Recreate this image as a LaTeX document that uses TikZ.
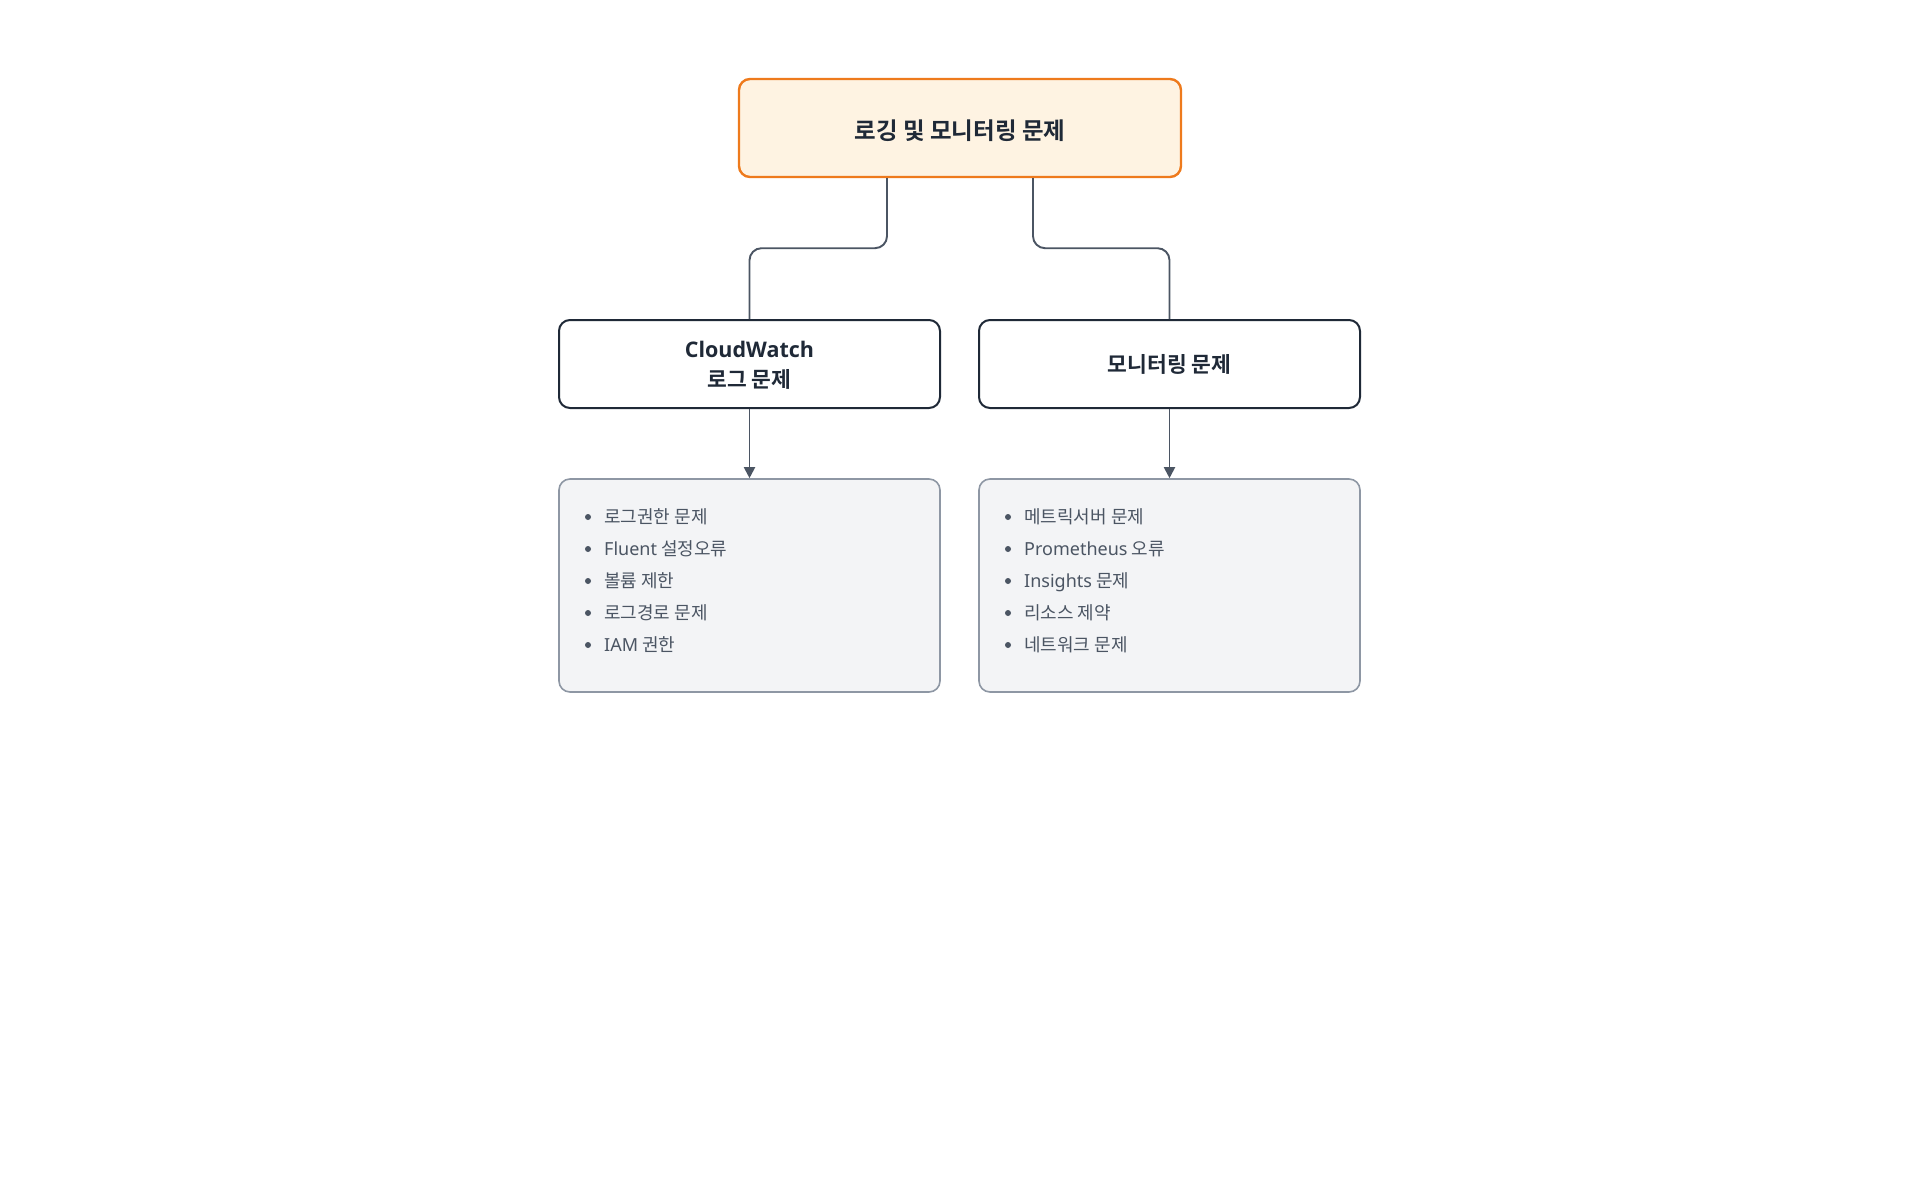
\documentclass[tikz,border=0pt]{standalone}
\usepackage{fontspec}
\setmainfont{Noto Sans CJK KR}[BoldFont={Noto Sans CJK KR Bold}]
\newfontfamily\lat{Noto Sans}
\newfontfamily\latb{Open Sans}
\usetikzlibrary{arrows.meta}
\definecolor{dark}{HTML}{1F2937}
\definecolor{conn}{HTML}{4B5563}
\definecolor{orng}{HTML}{EE7A1C}
\definecolor{orngfill}{HTML}{FEF3E2}
\definecolor{listfill}{HTML}{F3F4F6}
\definecolor{listdraw}{HTML}{8E97A4}
\definecolor{itemtext}{HTML}{4B5563}
\tikzset{
  x=1pt, y=1pt,
  topbox/.style={draw=orng, fill=orngfill, line width=2.4pt, rounded corners=11pt,
    minimum width=442pt, minimum height=98pt, text=dark,
    font=\fontsize{23.5}{28}\selectfont\bfseries, inner sep=0pt},
  midbox/.style={draw=dark, fill=white, line width=2pt, rounded corners=11pt,
    minimum width=381pt, minimum height=88pt, text=dark, align=center,
    font=\fontsize{21.5}{30}\selectfont\bfseries, inner sep=0pt},
  listbox/.style={draw=listdraw, fill=listfill, line width=1.6pt, rounded corners=11pt,
    minimum width=381pt, minimum height=213pt, inner sep=0pt},
  item/.style={anchor=base west, text=itemtext, inner sep=0pt,
    font=\fontsize{18}{20}\selectfont},
  bul/.style={fill=itemtext},
  link/.style={draw=conn, line width=1.9pt, rounded corners=12pt},
  arr/.style={draw=conn, line width=1.9pt, -{Triangle[length=11pt,width=11pt]}}
}
\begin{document}
\begin{tikzpicture}
\useasboundingbox (0,0) rectangle (1920,-1200);
\node[topbox] (top) at (960,-128) {\raisebox{-3pt}[\height][\depth]{로깅 및 모니터링 문제}};
\node[midbox] (cw) at (749.5,-364) {\raisebox{-2.5pt}[\height][\depth]{\begin{tabular}{@{}c@{}}{\latb\bfseries CloudWatch}\\로그 문제\end{tabular}}};
\node[midbox] (mon) at (1169.5,-364) {모니터링 문제};
\node[listbox] (cwl) at (749.5,-585.5) {};
\node[listbox] (monl) at (1169.5,-585.5) {};

\draw[link] ([xshift=-73pt]top.south) -- ++(0,-70) -| (cw.north);
\draw[link] ([xshift=73pt]top.south) -- ++(0,-70) -| (mon.north);
\draw[arr] (cw.south) -- (cwl.north);
\draw[arr] (mon.south) -- (monl.north);

\foreach \y in {517,549,581,613,645}{
  \fill[bul] (588,-\y) circle (3pt);
  \fill[bul] (1008,-\y) circle (3pt);
}
\node[item] (a1) at (604,-523.5) {로그권한 문제};
\node[item] (a2) at (604,-555.5) {{\lat Fluent} 설정오류};
\node[item] (a3) at (604,-587.5) {볼륨 제한};
\node[item] (a4) at (604,-619.5) {로그경로 문제};
\node[item] (a5) at (604,-651.5) {{\lat IAM} 권한};

\node[item] (b1) at (1024,-523.5) {메트릭서버 문제};
\node[item] (b2) at (1024,-555.5) {{\lat Prometheus} 오류};
\node[item] (b3) at (1024,-587.5) {{\lat Insights} 문제};
\node[item] (b4) at (1024,-619.5) {리소스 제약};
\node[item] (b5) at (1024,-651.5) {네트워크 문제};
\end{tikzpicture}
\end{document}
